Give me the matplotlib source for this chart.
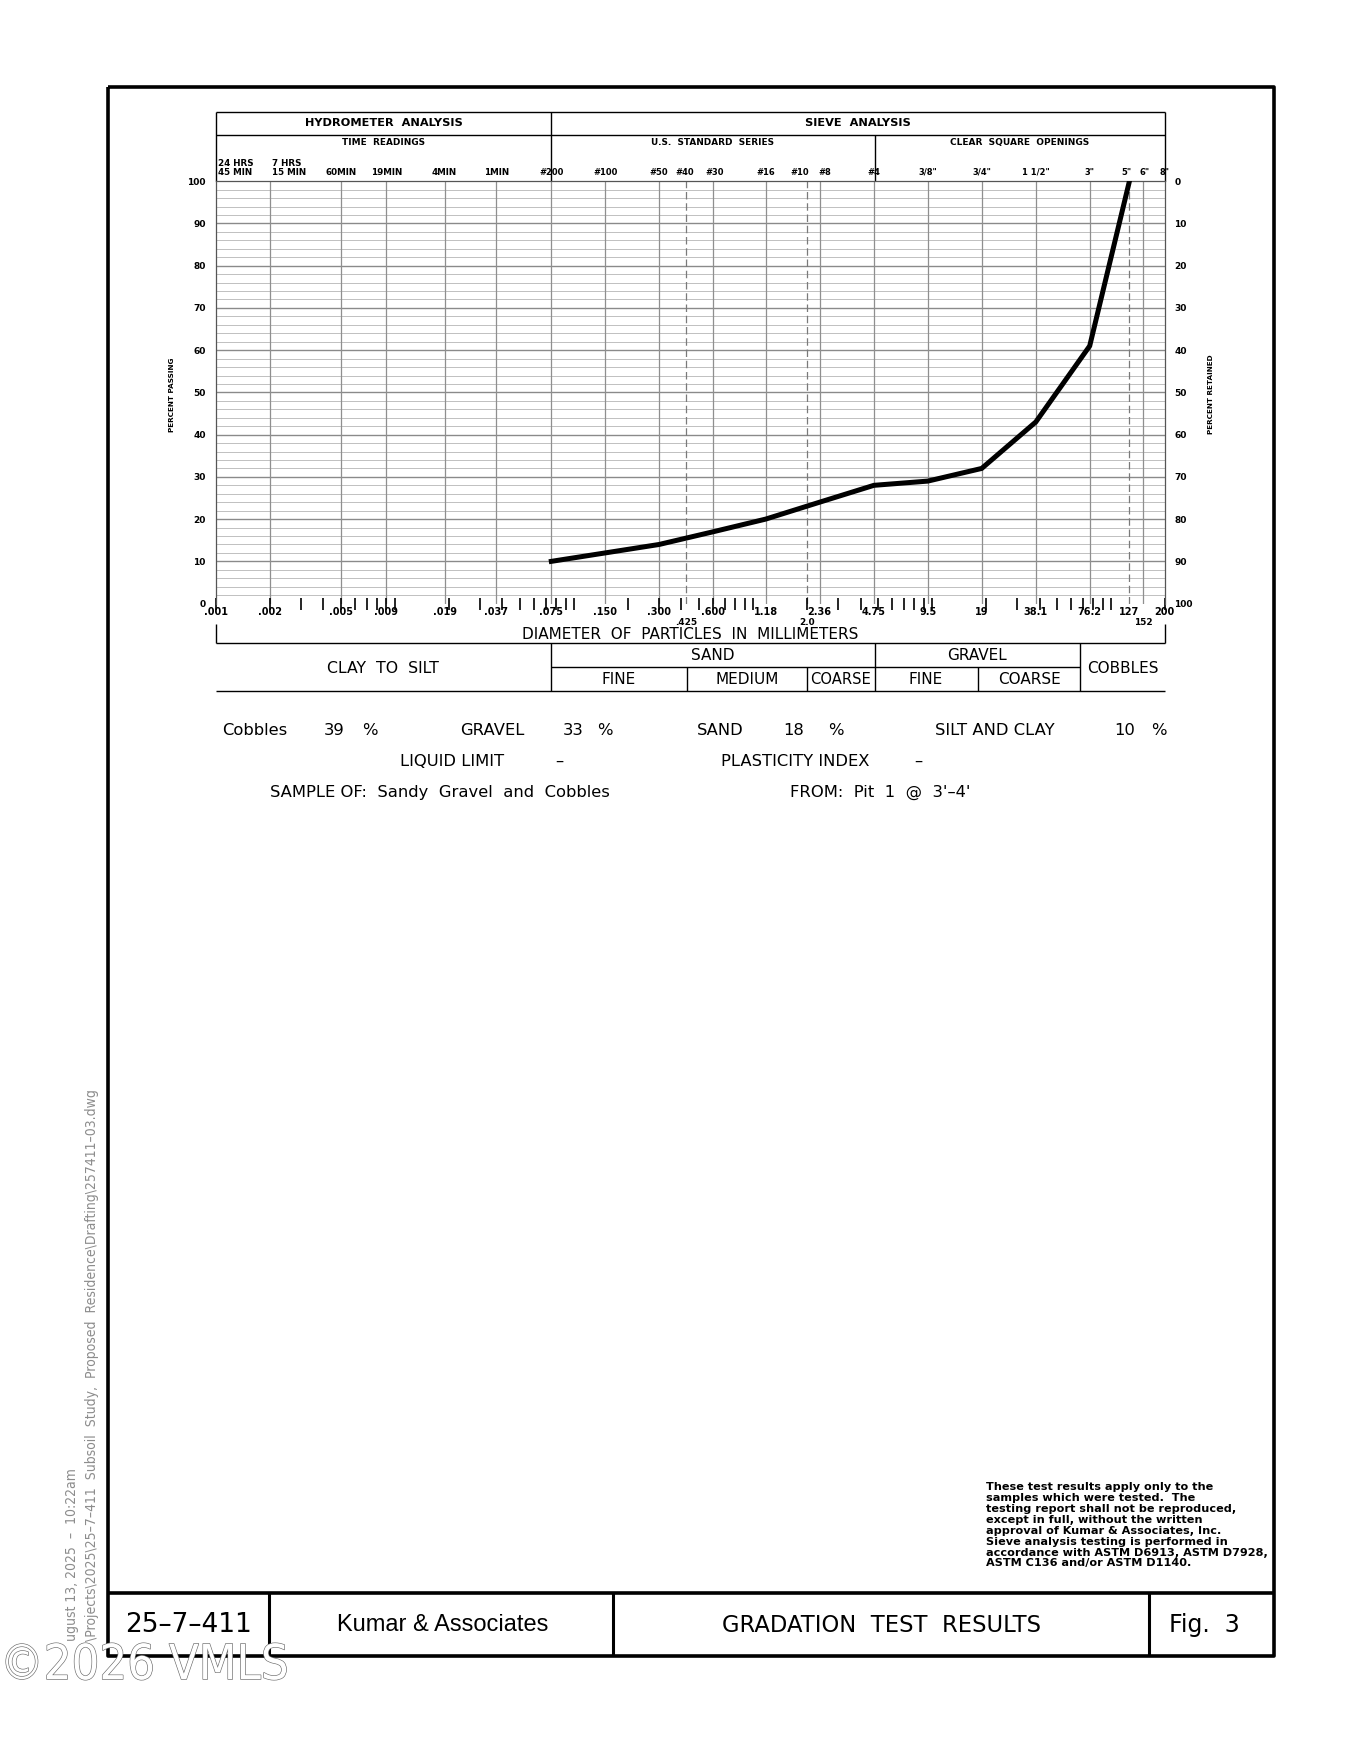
import matplotlib
matplotlib.use("Agg")
import os
import matplotlib.pyplot as plt
from matplotlib import font_manager
from matplotlib.font_manager import FontProperties
from matplotlib.ticker import LogLocator, NullFormatter, NullLocator
import matplotlib.patheffects as pe
import matplotlib.transforms as mtransforms

# ---------------- data ----------------
sieve_size_mm = [0.075, 0.150, 0.300, 0.600, 1.18, 2.36, 4.75, 9.5, 19.0, 38.1, 76.2, 127.0]
percent_passing = [10, 12, 14, 17, 20, 24, 28, 29, 32, 43, 61, 100]

bottom_tick_values = [0.001, 0.002, 0.005, 0.009, 0.019, 0.037, 0.075, 0.150, 0.300,
                      0.600, 1.18, 2.36, 4.75, 9.5, 19, 38.1, 76.2, 127, 200]
bottom_tick_labels = [".001", ".002", ".005", ".009", ".019", ".037", ".075", ".150", ".300",
                      ".600", "1.18", "2.36", "4.75", "9.5", "19", "38.1", "76.2", "127", "200"]
bottom_tick2_values = [0.425, 2.0, 152]
bottom_tick2_labels = [".425", "2.0", "152"]

hydro_time_values = [0.001, 0.002, 0.005, 0.009, 0.019, 0.037]
hydro_time_labels = ["24 HRS\n45 MIN", "7 HRS\n15 MIN", "60MIN", "19MIN", "4MIN", "1MIN"]
sieve_values = [0.075, 0.150, 0.300, 0.425, 0.600, 1.18, 2.0, 2.36, 4.75, 9.5, 19, 38.1,
                76.2, 127, 152, 200]
sieve_labels = ["#200", "#100", "#50", "#40", "#30", "#16", "#10", "#8", "#4", '3/8"',
                '3/4"', '1 1/2"', '3"', '5"', '6"', '8"']
dashed_values = [0.425, 2.0, 127]
grid_values = [0.002, 0.005, 0.009, 0.019, 0.037, 0.075, 0.150, 0.300, 0.600, 1.18,
               2.36, 4.75, 9.5, 19, 38.1, 76.2, 152]
pct_ticks = list(range(0, 101, 10))

summary_labels = ["Cobbles", "GRAVEL", "SAND", "SILT AND CLAY"]
summary_values = ["39", "33", "18", "10"]

# label nudges (points) for crowded top labels
label_nudge = {"#10": -5, "#8": 4, "#40": -1, "#30": 1, "5\"": -2, "6\"": 1}

# ---------------- fonts ----------------
plt.rcParams["font.family"] = ["DejaVu Sans"]


def find_narrow():
    prefs = ["LiberationSansNarrow-Regular", "DejaVuSansCondensed.ttf", "Condensed", "Narrow"]
    files = [f.fname for f in font_manager.fontManager.ttflist]
    for p in prefs:
        for fn in files:
            base = os.path.basename(fn)
            if p in base and "Bold" not in base and "Oblique" not in base and "Italic" not in base:
                return FontProperties(fname=fn)
    return FontProperties(family="DejaVu Sans")


NARROW_FP = find_narrow()

W, H = 1212.0, 1568.0
fig = plt.figure(figsize=(13.47, 17.43), dpi=100)
fig.patch.set_facecolor("white")

bg = fig.add_axes([0, 0, 1, 1])
bg.set_xlim(0, W)
bg.set_ylim(H, 0)
bg.axis("off")


def line(xs, ys, lw=1.0, color="black", **kw):
    bg.plot(xs, ys, color=color, lw=lw, solid_capstyle="butt", **kw)


def txt(x, y, s, size=10, ha="center", va="center", weight="normal", narrow=False, **kw):
    kwargs = dict(ha=ha, va=va)
    if narrow:
        fp = NARROW_FP.copy()
        fp.set_size(size)
        kwargs["fontproperties"] = fp
    else:
        kwargs["fontsize"] = size
        kwargs["fontweight"] = weight
    kwargs.update(kw)
    bg.text(x, y, s, **kwargs)


# ---------------- frame ----------------
L, R, T, B = 97, 1146, 78, 1490
line([L, R, R, L, L], [T, T, B, B, T], lw=2.6)
line([L, R], [1433, 1433], lw=2.6)
for xv in [242, 552, 1034]:
    line([xv, xv], [1433, B], lw=2.2)

txt(170, 1462, "25\u20137\u2013411", size=19)
txt(398, 1462, "Kumar & Associates", size=17, family="Liberation Sans")
txt(793, 1462, "GRADATION  TEST  RESULTS", size=16.3)
txt(1084, 1462, "Fig.  3", size=17)

# ---------------- plot region ----------------
PL, PR, PT, PB = 194, 1048, 163, 543
ax = fig.add_axes([PL / W, 1 - PB / H, (PR - PL) / W, (PB - PT) / H])
ax.set_xscale("log")
ax.set_xlim(0.001, 200)
ax.set_ylim(0, 100)
ax.set_facecolor("none")

for yv in range(2, 100, 2):
    major = yv % 10 == 0
    ax.axhline(yv, color="#8a8a8a" if major else "#b5b5b5", lw=1.0 if major else 0.6, zorder=1)
for xv in grid_values:
    ax.axvline(xv, color="#8f8f8f", lw=0.9, zorder=1)
for xv in dashed_values:
    ax.axvline(xv, color="#7a7a7a", lw=0.9, ls=(0, (6, 3)), zorder=1)

ax.plot(sieve_size_mm, percent_passing, color="black", lw=3.6, zorder=5,
        solid_joinstyle="miter")

for s in ax.spines.values():
    s.set_color("#555555")
    s.set_linewidth(0.9)
ax.spines["bottom"].set_visible(False)

ax.xaxis.set_major_locator(NullLocator())
ax.xaxis.set_minor_locator(LogLocator(base=10, subs=range(1, 10), numticks=20))
ax.xaxis.set_minor_formatter(NullFormatter())
ax.tick_params(axis="x", which="minor", direction="inout", length=9, width=1.2,
               color="black", bottom=True, top=False)

ax.set_yticks(pct_ticks)
ax.set_yticklabels([str(v) for v in pct_ticks], fontsize=6.5, fontweight="bold")
ax.tick_params(axis="y", length=0, pad=7)

ax2 = ax.twinx()
ax2.set_ylim(100, 0)
ax2.set_yticks(pct_ticks)
ax2.set_yticklabels([str(v) for v in pct_ticks], fontsize=6.5, fontweight="bold")
ax2.tick_params(axis="y", length=0, pad=7)
for s in ax2.spines.values():
    s.set_visible(False)

# bottom labels
trans_b = mtransforms.blended_transform_factory(ax.transData, bg.transData)
for v, lab in zip(bottom_tick_values, bottom_tick_labels):
    ax.text(v, 551, lab, transform=trans_b, ha="center", va="center", fontsize=7,
            fontweight="bold")
for v, lab in zip(bottom_tick2_values, bottom_tick2_labels):
    ax.text(v, 560, lab, transform=trans_b, ha="center", va="center", fontsize=6.4,
            fontweight="bold")

# top labels
for i, (v, lab) in enumerate(zip(hydro_time_values, hydro_time_labels)):
    if i < 2:
        ax.text(v * 1.03, 159, lab, transform=trans_b, ha="left", va="bottom", fontsize=6.3,
                fontweight="bold", linespacing=0.95)
    else:
        ax.text(v, 159, lab, transform=trans_b, ha="center", va="bottom", fontsize=6.3,
                fontweight="bold")
for v, lab in zip(sieve_values, sieve_labels):
    dx = label_nudge.get(lab, 0)
    tr = trans_b + mtransforms.ScaledTranslation(dx / 72.0, 0, fig.dpi_scale_trans)
    ax.text(v, 159, lab, transform=tr, ha="center", va="bottom", fontsize=6.0,
            fontweight="bold")

# axis titles
txt(155, 355, "PERCENT PASSING", size=5.2, weight="bold", rotation=90)
txt(1090, 355, "PERCENT RETAINED", size=5.2, weight="bold", rotation=90)

# ---------------- header box ----------------
line([PL, PR], [101, 101], lw=1.0)
line([PL, PR], [121, 121], lw=1.0)
line([PL, PL], [101, PT], lw=1.0)
line([PR, PR], [101, PT], lw=1.0)
line([496, 496], [101, PT], lw=1.0)
line([787, 787], [121, PT], lw=1.0)
txt(345, 111, "HYDROMETER  ANALYSIS", size=8.2, weight="bold")
txt(772, 111, "SIEVE  ANALYSIS", size=8.2, weight="bold")
txt(345, 128.5, "TIME  READINGS", size=6.4, weight="bold")
txt(641, 128.5, "U.S.  STANDARD  SERIES", size=6.4, weight="bold")
txt(917, 128.5, "CLEAR  SQUARE  OPENINGS", size=6.5, weight="bold")

# ---------------- bracket and classification ----------------
line([PL, PL], [561, 578], lw=1.0)
line([PR, PR], [561, 578], lw=1.0)
line([PL, PR], [578, 578], lw=1.0)
line([PL, PR], [622, 622], lw=1.0)
line([496, 972], [600, 600], lw=1.0)
for xv in [496, 787, 972]:
    line([xv, xv], [578, 622], lw=1.0)
for xv in [618, 726, 880]:
    line([xv, xv], [600, 622], lw=1.0)
txt(621, 571, "DIAMETER  OF  PARTICLES  IN  MILLIMETERS", size=11)
txt(345, 601, "CLAY  TO  SILT", size=11.3)
txt(641, 590, "SAND", size=11)
txt(557, 611.5, "FINE", size=11)
txt(672, 611.5, "MEDIUM", size=11)
txt(756, 611.5, "COARSE", size=10.6)
txt(879, 590, "GRAVEL", size=11)
txt(833, 611.5, "FINE", size=11)
txt(926, 611.5, "COARSE", size=11)
txt(1010, 601, "COBBLES", size=11)

# ---------------- summary text ----------------
lab_x = [200, 414, 627, 841]
val_x = [301, 516, 714, 1012]
pct_x = [333, 544, 752, 1043]
for lx, vx, px, lab, val in zip(lab_x, val_x, pct_x, summary_labels, summary_values):
    txt(lx, 657, lab, size=11.8, ha="left")
    txt(vx, 657, val, size=11.8, ha="center")
    txt(px, 657, "%", size=11.8, ha="center")
txt(360, 685, "LIQUID LIMIT", size=11.8, ha="left")
txt(503, 685, "\u2013", size=11.8)
txt(649, 685, "PLASTICITY INDEX", size=11.8, ha="left")
txt(826, 685, "\u2013", size=11.8)
txt(243, 713, "SAMPLE OF:  Sandy  Gravel  and  Cobbles", size=11.8, ha="left")
txt(711, 713, "FROM:  Pit  1  @  3'\u20134'", size=11.8, ha="left")

# ---------------- footnote ----------------
note = ("These test results apply only to the\n"
        "samples which were tested.  The\n"
        "testing report shall not be reproduced,\n"
        "except in full, without the written\n"
        "approval of Kumar & Associates, Inc.\n"
        "Sieve analysis testing is performed in\n"
        "accordance with ASTM D6913, ASTM D7928,\n"
        "ASTM C136 and/or ASTM D1140.")
txt(887, 1333, note, size=8.1, ha="left", va="top", weight="bold", linespacing=1.12)

# ---------------- side text ----------------
txt(65, 1476, "ugust 13, 2025  \u2013  10:22am", size=10, ha="left", va="center",
    rotation=90, color="#8c8c8c", rotation_mode="anchor", narrow=True)
txt(83, 1476, "\\Projects\\2025\\25\u20137\u2013411  Subsoil  Study,  Proposed  Residence\\Drafting\\257411\u201303.dwg",
    size=10, ha="left", va="center", rotation=90, color="#8c8c8c", rotation_mode="anchor",
    narrow=True)

# ---------------- watermark ----------------
wfp = NARROW_FP.copy()
wfp.set_size(35)
bg.text(0, 1498, "\u00a92026 VMLS", fontproperties=wfp, ha="left", va="center", color="white",
        path_effects=[pe.withStroke(linewidth=0.9, foreground="#6a6a6a")])

fig.savefig("out.png", dpi=100, facecolor="white")
